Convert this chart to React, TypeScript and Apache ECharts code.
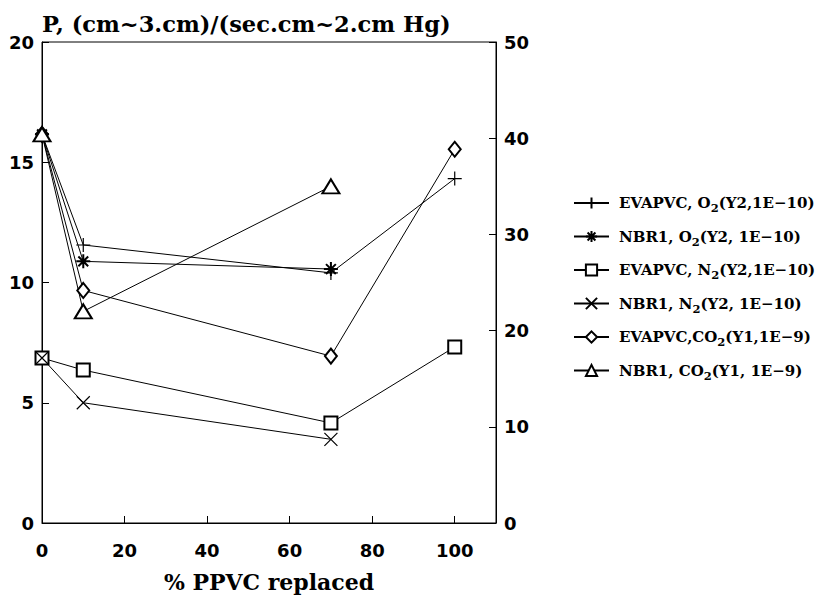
import React, { useEffect, useRef } from 'react';
import * as echarts from 'echarts';

// x positions (% PPVC replaced)
const xValues = [0, 10, 70, 100];
// Right axis (Y2, x 1E-10)
const evapvcO2 = [40.4, 28.9, 26.0, 35.8];
const nbr1O2 = [40.4, 27.2, 26.4, null];
const evapvcN2 = [17.15, 15.9, 10.4, 18.3];
const nbr1N2 = [17.15, 12.5, 8.7, null];
// Left axis (Y1, x 1E-9)
const evapvcCO2 = [16.16, 9.67, 6.94, 15.54];
const nbr1CO2 = [16.16, 8.8, 14.0, null];

const seriesNames = ['evapvcO2', 'nbr1O2', 'evapvcN2', 'nbr1N2', 'evapvcCO2', 'nbr1CO2'];
const legendPre = ['EVAPVC, O', 'NBR1, O', 'EVAPVC, N', 'NBR1, N', 'EVAPVC,CO', 'NBR1, CO'];
const legendSub = ['2', '2', '2', '2', '2', '2'];
const legendPost = ['(Y2,1E\u221210)', '(Y2, 1E\u221210)', '(Y2,1E\u221210)', '(Y2, 1E\u221210)', '(Y1,1E\u22129)', '(Y1, 1E\u22129)'];

const titleText = 'P, (cm~3.cm)/(sec.cm~2.cm Hg)';
const xAxisTitle = '% PPVC replaced';

const SERIF = "'DejaVu Serif', serif";
const SANS = "'DejaVu Sans', sans-serif";

const PLUS = 'path://M0,5L10,5M5,0L5,10';
const CROSS = 'path://M0,0L10,10M10,0L0,10';
const STAR = 'path://M5,0L5,10M0,5L10,5M1.5,1.5L8.5,8.5M8.5,1.5L1.5,8.5';

function pairs(ys: (number | null)[]) {
  const out: number[][] = [];
  ys.forEach((y, i) => {
    if (y !== null) out.push([xValues[i], y]);
  });
  return out;
}

export default function App() {
  const ref = useRef<HTMLDivElement>(null);
  useEffect(() => {
    if (!ref.current) return;
    const chart = echarts.init(ref.current, null, { renderer: 'svg' });
    const dataSets = [evapvcO2, nbr1O2, evapvcN2, nbr1N2, evapvcCO2, nbr1CO2];
    const symbols = [PLUS, STAR, 'emptyRect', CROSS, 'emptyDiamond', 'emptyTriangle'];
    const sizes: any[] = [14, 14, 13, 13, [12, 15], [17, 14]];
    const axisIdx = [1, 1, 1, 1, 0, 0];
    const bw = [1.2, 2, 1.3, 1.2, 1.3, 1.3];
    const series = dataSets.map((d, i) => ({
      name: seriesNames[i],
      type: 'line',
      yAxisIndex: axisIdx[i],
      data: pairs(d),
      symbol: symbols[i],
      symbolSize: sizes[i],
      showAllSymbol: true,
      lineStyle: { color: '#000', width: 1 },
      itemStyle: { color: '#000', borderColor: '#000', borderWidth: bw[i] },
      emphasis: { disabled: true },
    }));
    const axisLabelStyle = { fontFamily: SANS, fontWeight: 'bold', fontSize: 18, color: '#000' };
    chart.setOption({
      animation: false,
      backgroundColor: '#fff',
      title: {
        text: titleText,
        left: 42,
        top: 12,
        padding: 0,
        textStyle: { fontFamily: SERIF, fontWeight: 'bold', fontSize: 22.5, color: '#000' },
      },
      grid: {
        left: 42,
        right: 322,
        top: 42,
        bottom: 70,
        show: true,
        borderColor: '#000',
        borderWidth: 1,
        backgroundColor: 'transparent',
      },
      legend: {
        orient: 'vertical',
        left: 573,
        top: 192,
        itemWidth: 35,
        itemHeight: 14,
        itemGap: 11.5,
        padding: 0,
        data: seriesNames,
        formatter: (name: string) => {
          const i = seriesNames.indexOf(name);
          return '{t|' + legendPre[i] + '}{s|' + legendSub[i] + '}{t|' + legendPost[i] + '}';
        },
        textStyle: {
          padding: [0, 0, 0, 5],
          rich: {
            t: { fontFamily: SERIF, fontWeight: 'bold', fontSize: 15, color: '#000', lineHeight: 16 },
            s: { fontFamily: SERIF, fontWeight: 'bold', fontSize: 11.5, color: '#000', padding: [10, 0, 0, 0], lineHeight: 12 },
          },
        },
      },
      xAxis: {
        type: 'value',
        min: 0,
        max: 110,
        interval: 20,
        name: xAxisTitle,
        nameLocation: 'middle',
        nameGap: 48,
        nameTextStyle: { fontFamily: SERIF, fontWeight: 'bold', fontSize: 22, color: '#000' },
        axisLine: { lineStyle: { color: '#000', width: 1 } },
        axisTick: { inside: true, length: 7, lineStyle: { color: '#000' } },
        axisLabel: { ...axisLabelStyle, margin: 18, showMaxLabel: false,
          formatter: (v: number) => (v > 100 ? '' : String(v)) },
        splitLine: { show: false },
      },
      yAxis: [
        {
          type: 'value',
          min: 0,
          max: 20,
          interval: 5,
          position: 'left',
          axisLine: { show: true, lineStyle: { color: '#000', width: 1 } },
          axisTick: { show: true, inside: true, length: 7, lineStyle: { color: '#000' } },
          axisLabel: { ...axisLabelStyle, margin: 8 },
          splitLine: { show: false },
        },
        {
          type: 'value',
          min: 0,
          max: 50,
          interval: 10,
          position: 'right',
          axisLine: { show: true, lineStyle: { color: '#000', width: 1 } },
          axisTick: { show: true, inside: true, length: 7, lineStyle: { color: '#000' } },
          axisLabel: { ...axisLabelStyle, margin: 8 },
          splitLine: { show: false },
        },
      ],
      series,
    });
    return () => chart.dispose();
  }, []);
  return (
    <div
      ref={ref}
      style={{ position: 'fixed', left: 0, top: 0, width: 818, height: 598, background: '#fff' }}
    />
  );
}
